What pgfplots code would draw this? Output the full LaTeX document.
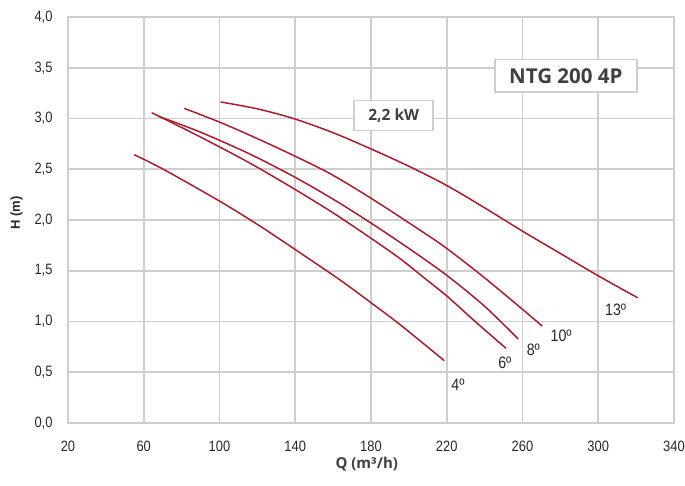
\documentclass[border=0pt]{standalone}
\usepackage{fontspec}
\setmainfont{Liberation Sans}
\newfontfamily\narrowfont{Liberation Sans}[FakeStretch=0.86]
\newfontfamily\osans{Open Sans}
\usepackage{pgfplots}
\pgfplotsset{compat=1.18}
\definecolor{curvec}{RGB}{172,28,44}
\definecolor{gridc}{RGB}{206,206,206}
\definecolor{txt}{RGB}{40,40,40}
\definecolor{boxtxt}{RGB}{64,64,64}
\pgfplotsset{pc/.style={color=curvec, line width=1.5bp, smooth, mark=none}}
\begin{document}
\begin{tikzpicture}
\path[use as bounding box] (-68bp,-63bp) rectangle (617bp,423bp);
\begin{axis}[
  at={(0,0)}, anchor=south west,
  scale only axis, width=606bp, height=406bp,
  xmin=20, xmax=340, ymin=0, ymax=4,
  xtick={20,60,100,140,180,220,260,300,340},
  ytick={0,0.5,1,1.5,2,2.5,3,3.5,4},
  grid=major,
  grid style={color=gridc, line width=1.6bp},
  axis line style={color=gridc, line width=1.6bp},
  major tick length=0pt,
  /pgf/number format/assume math mode=true,
  tick label style={font=\narrowfont\fontsize{15bp}{17bp}\selectfont, text=txt},
  xticklabel style={anchor=center, yshift=-23bp},
  yticklabel style={anchor=east, xshift=-12bp},
  yticklabel={\pgfmathprintnumber[assume math mode=true,fixed,fixed zerofill,precision=1,use comma]{\tick}},
  xticklabel={\pgfmathprintnumber[assume math mode=true]{\tick}},
  xlabel={Q (m³/h)},
  xlabel style={at={(axis description cs:0.493,-0.1)}, anchor=center, font=\osans\bfseries\fontsize{15bp}{17bp}\selectfont, text=boxtxt},
  ylabel={H (m)},
  ylabel style={at={(axis description cs:-0.085,0.517)}, anchor=center, font=\bfseries\fontsize{13bp}{15bp}\selectfont, text=txt},
  clip=false,
]
% 4 deg
\addplot[pc] coordinates {(55.0,2.643) (70.3,2.50) (100.6,2.18) (121.4,1.94) (140.7,1.70) (163.6,1.41) (180,1.185) (195.3,0.97) (218.7,0.614)};
% 6 deg
\addplot[pc] coordinates {(64.2,3.057) (89.7,2.82) (116.1,2.56) (140,2.30) (160,2.07) (180,1.82) (195.3,1.62) (209.4,1.41) (220.5,1.244) (235,1.00) (251.3,0.736)};
% 8 deg
\addplot[pc] coordinates {(68,3.02) (90,2.865) (116,2.65) (140,2.42) (160,2.205) (180,1.97) (200,1.72) (220,1.455) (240,1.15) (257.7,0.828)};
% 10 deg
\addplot[pc] coordinates {(81.4,3.10) (100.6,2.96) (121.4,2.79) (144.2,2.59) (160,2.44) (180.4,2.21) (205.9,1.90) (220,1.72) (240,1.43) (260,1.12) (270.4,0.955)};
% 13 deg
\addplot[pc] coordinates {(100.6,3.163) (120,3.095) (139,3.00) (160,2.86) (180,2.70) (200,2.53) (220,2.34) (240,2.12) (260,1.89) (280,1.67) (300,1.45) (320.8,1.234)};

\node[font=\narrowfont\fontsize{16.5bp}{18bp}\selectfont, text=txt] at (axis cs:309.2,1.12) {13º};
\node[font=\narrowfont\fontsize{16.5bp}{18bp}\selectfont, text=txt] at (axis cs:280.4,0.857) {10º};
\node[font=\narrowfont\fontsize{16.5bp}{18bp}\selectfont, text=txt] at (axis cs:265.7,0.722) {8º};
\node[font=\narrowfont\fontsize{16.5bp}{18bp}\selectfont, text=txt] at (axis cs:250.7,0.596) {6º};
\node[font=\narrowfont\fontsize{16.5bp}{18bp}\selectfont, text=txt] at (axis cs:225.9,0.379) {4º};

\node[draw=gridc, line width=1.6bp, fill=white, minimum width=142bp, minimum height=32.6bp, inner sep=0pt,
      font=\osans\bfseries\fontsize{20.5bp}{22bp}\selectfont, text=boxtxt] at (axis cs:282.9,3.419) {NTG 200 4P};
\node[draw=gridc, line width=1.6bp, fill=white, minimum width=79bp, minimum height=30bp, inner sep=0pt,
      font=\osans\bfseries\fontsize{15.5bp}{17bp}\selectfont, text=boxtxt] at (axis cs:192,3.03) {2,2 kW\vphantom{k}};
\end{axis}
\end{tikzpicture}
\end{document}
